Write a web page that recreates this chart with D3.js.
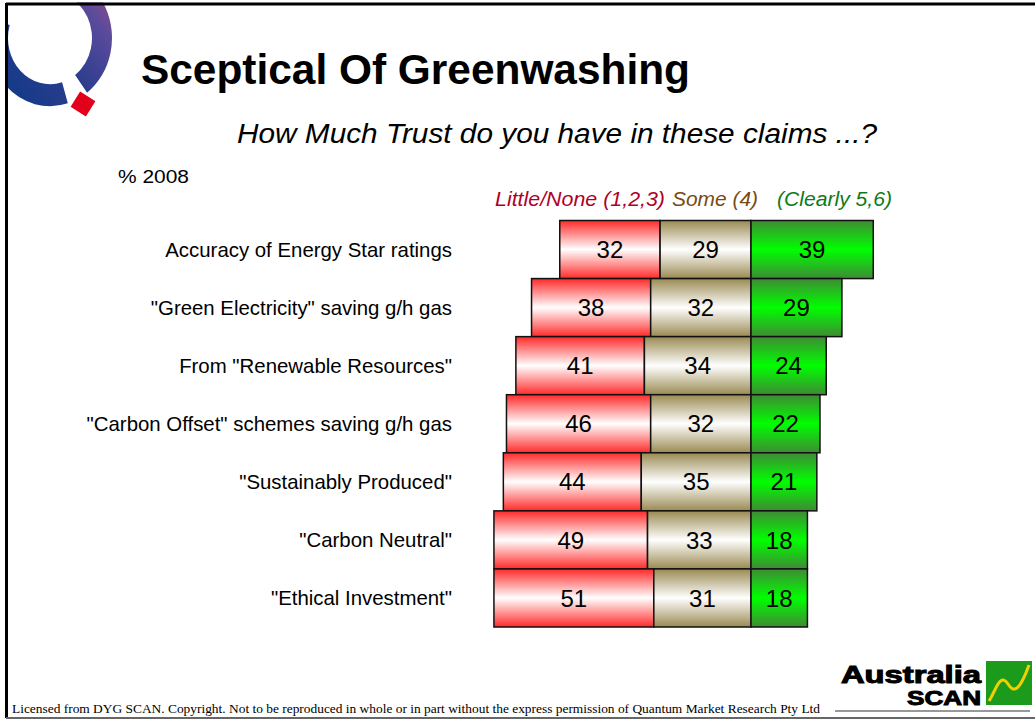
<!DOCTYPE html>
<html><head><meta charset="utf-8">
<script src="https://cdn.jsdelivr.net/npm/d3@7"></script>
<style>body{margin:0;background:#fff}svg{display:block}</style>
</head><body>
<svg id="c" width="1035" height="720"></svg>
<script>
const categories = ['Accuracy of Energy Star ratings','"Green Electricity" saving g/h gas','From "Renewable Resources"','"Carbon Offset" schemes saving g/h gas','"Sustainably Produced"','"Carbon Neutral"','"Ethical Investment"'];
const little = [32,38,41,46,44,49,51];
const some = [29,32,34,32,35,33,31];
const clearly = [39,29,24,22,21,18,18];
const seriesNames = ['Little/None (1,2,3)','Some (4)','(Clearly 5,6)'];

const FONT = 'Liberation Sans, Arial, Helvetica, sans-serif';
const svg = d3.select('#c');
const defs = svg.append('defs');
function vgrad(id, edge, mid){
  const g = defs.append('linearGradient').attr('id',id).attr('x1',0).attr('y1',0).attr('x2',0).attr('y2',1);
  g.append('stop').attr('offset','0%').attr('stop-color',edge);
  g.append('stop').attr('offset','50%').attr('stop-color',mid);
  g.append('stop').attr('offset','100%').attr('stop-color',edge);
}
vgrad('gRed','#ff2a2a','#ffffff');
vgrad('gSome','#9a8a52','#ffffff');
vgrad('gGreen','#3f8a35','#00ff00');

// logo Q
const lg = defs.append('linearGradient').attr('id','gQ').attr('gradientUnits','userSpaceOnUse')
  .attr('x1',-60).attr('y1',50).attr('x2',60).attr('y2',-60);
lg.append('stop').attr('offset','0%').attr('stop-color','#0e3a86');
lg.append('stop').attr('offset','45%').attr('stop-color','#2c3d8e');
lg.append('stop').attr('offset','75%').attr('stop-color','#5a4a9c');
lg.append('stop').attr('offset','100%').attr('stop-color','#a55282');
const qg = svg.append('g').attr('transform','translate(50,38) scale(1,1.1)');
const arc = d3.arc().innerRadius(42).outerRadius(62);
qg.append('path').attr('d',arc({startAngle:2.85,endAngle:5.0})).attr('fill','url(#gQ)');
qg.append('path').attr('d',arc({startAngle:-0.3,endAngle:2.5})).attr('fill','url(#gQ)');
svg.append('rect').attr('x',-9).attr('y',-9).attr('width',18).attr('height',18).attr('fill','#e2001a')
  .attr('transform','translate(83,104) rotate(32)');
// white mask outside frame
svg.append('rect').attr('x',0).attr('y',0).attr('width',5).attr('height',720).attr('fill','#fff');
svg.append('rect').attr('x',0).attr('y',0).attr('width',1035).attr('height',2.5).attr('fill','#fff');
// frame
svg.append('line').attr('x1',6).attr('x2',1035).attr('y1',4).attr('y2',4).attr('stroke','#000').attr('stroke-width',3);
svg.append('line').attr('x1',6.5).attr('x2',6.5).attr('y1',3).attr('y2',718).attr('stroke','#000').attr('stroke-width',3);
svg.append('line').attr('x1',6).attr('x2',1035).attr('y1',718).attr('y2',718).attr('stroke','#666').attr('stroke-width',2);

// titles
svg.append('text').attr('x',141).attr('y',84).attr('font-family',FONT)
  .attr('font-weight','bold').attr('font-size',43).attr('textLength',549).attr('lengthAdjust','spacingAndGlyphs')
  .text('Sceptical Of Greenwashing');
svg.append('text').attr('x',237).attr('y',143).attr('font-family',FONT)
  .attr('font-style','italic').attr('font-size',27).attr('textLength',640).attr('lengthAdjust','spacingAndGlyphs')
  .text('How Much Trust do you have in these claims ...?');
svg.append('text').attr('x',118).attr('y',183).attr('font-family',FONT)
  .attr('font-size',19).attr('textLength',71).attr('lengthAdjust','spacingAndGlyphs').text('% 2008');

// scales
const x = d3.scaleLinear().domain([-60,45]).range([751-60*3.135, 751+45*3.135]);
const y = d3.scaleBand().domain(categories).range([220.5,627]).padding(0);

// legend
const legColors = ['#b0002a','#7a4a12','#107a18'];
const legX = [495, 672, 777];
const legW = [170, 86, 115];
svg.selectAll('text.leg').data(seriesNames).join('text').attr('class','leg')
  .attr('x',(d,i)=>legX[i]).attr('y',206)
  .attr('textLength',(d,i)=>legW[i]).attr('lengthAdjust','spacingAndGlyphs')
  .attr('font-family',FONT).attr('font-style','italic').attr('font-size',20.5)
  .attr('fill',(d,i)=>legColors[i]).text(d=>d);

// category labels
svg.selectAll('text.cat').data(categories).join('text').attr('class','cat')
  .attr('x',452).attr('y',d=>y(d)+y.bandwidth()/2).attr('dy','0.35em').attr('text-anchor','end')
  .attr('font-family',FONT).attr('font-size',20.4).text(d=>d);

// bars
const rows = categories.map((c,i)=>({c, segs:[
  {x0:-(little[i]+some[i]), x1:-some[i], v:little[i], f:'url(#gRed)'},
  {x0:-some[i], x1:0, v:some[i], f:'url(#gSome)'},
  {x0:0, x1:clearly[i], v:clearly[i], f:'url(#gGreen)'}
]}));
const rg = svg.selectAll('g.row').data(rows).join('g').attr('class','row');
rg.selectAll('rect').data(d=>d.segs.map(s=>({...s,c:d.c}))).join('rect')
  .attr('x',d=>x(d.x0)).attr('width',d=>x(d.x1)-x(d.x0))
  .attr('y',d=>y(d.c)).attr('height',y.bandwidth())
  .attr('fill',d=>d.f).attr('stroke','#111').attr('stroke-width',1.5);
rg.selectAll('text').data(d=>d.segs.map(s=>({...s,c:d.c}))).join('text')
  .attr('x',d=>(x(d.x0)+x(d.x1))/2).attr('y',d=>y(d.c)+y.bandwidth()/2).attr('dy','0.36em')
  .attr('text-anchor','middle').attr('font-family',FONT).attr('font-size',24)
  .text(d=>d.v);

// footer
svg.append('text').attr('x',12).attr('y',713).attr('font-family','Liberation Serif, Times New Roman, serif')
  .attr('font-size',12.5).attr('textLength',808).attr('lengthAdjust','spacingAndGlyphs')
  .text('Licensed from DYG SCAN. Copyright. Not to be reproduced in whole or in part without the express permission of Quantum Market Research Pty Ltd');
// Australia SCAN logo
svg.append('line').attr('x1',835).attr('x2',1030).attr('y1',711).attr('y2',711).attr('stroke','#333').attr('stroke-width',1.2);
svg.append('text').attr('x',841).attr('y',683).attr('font-family',FONT)
  .attr('font-weight','bold').attr('font-size',23).attr('stroke','#000').attr('stroke-width',1)
  .attr('textLength',140).attr('lengthAdjust','spacingAndGlyphs').text('Australia');
svg.append('text').attr('x',907).attr('y',705).attr('font-family',FONT)
  .attr('font-weight','bold').attr('font-size',21).attr('stroke','#000').attr('stroke-width',1)
  .attr('textLength',74).attr('lengthAdjust','spacingAndGlyphs').text('SCAN');
svg.append('rect').attr('x',986).attr('y',661).attr('width',46).attr('height',44).attr('fill','#1c9a1c');
svg.append('path').attr('d','M989,701 C996,690 1000,672 1008,684 C1014,694 1020,690 1029,665')
  .attr('fill','none').attr('stroke','#f2d000').attr('stroke-width',3);
</script>
</body></html>
